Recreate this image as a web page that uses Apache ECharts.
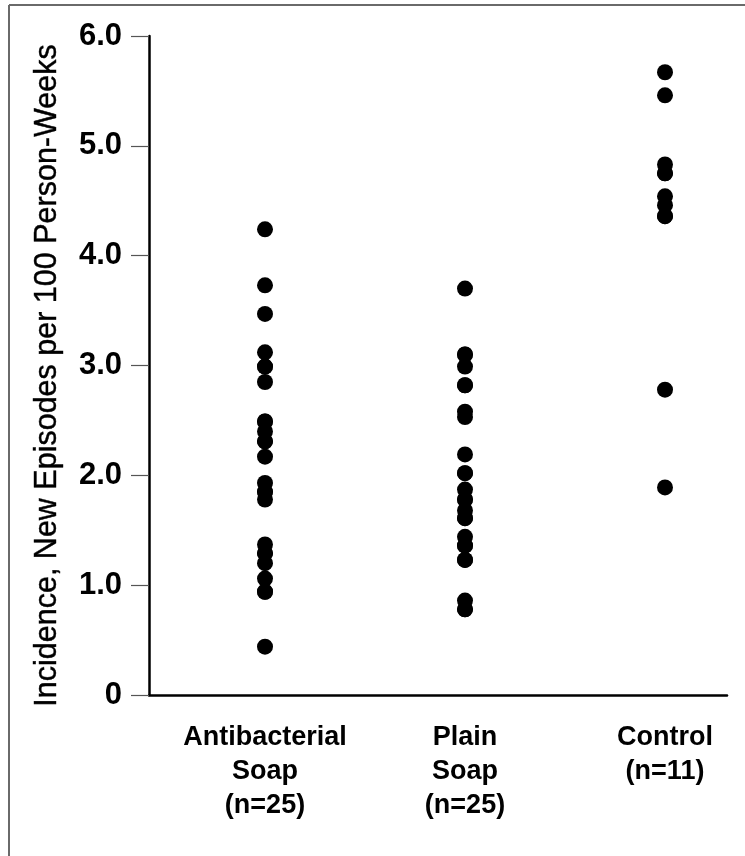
<!DOCTYPE html>
<html>
<head>
<meta charset="utf-8">
<script src="https://cdn.jsdelivr.net/npm/echarts@6/dist/echarts.min.js"></script>
<style>html,body{margin:0;padding:0;background:#fff}#c{width:745px;height:856px}</style>
</head>
<body>
<div id="c"></div>
<script>
const categories = ['Antibacterial\nSoap\n(n=25)', 'Plain\nSoap\n(n=25)', 'Control\n(n=11)'];
const yTicks = ['0', '1.0', '2.0', '3.0', '4.0', '5.0', '6.0'];
const antibacterial = [4.24, 3.73, 3.47, 3.12, 2.99, 2.99, 2.85, 2.49, 2.49, 2.40, 2.31, 2.31, 2.17, 1.93, 1.85, 1.85, 1.78, 1.37, 1.29, 1.29, 1.20, 1.06, 0.94, 0.94, 0.44];
const plainSoap = [3.70, 3.10, 3.10, 2.99, 2.82, 2.82, 2.58, 2.53, 2.19, 2.02, 2.02, 1.87, 1.78, 1.78, 1.68, 1.61, 1.61, 1.44, 1.36, 1.36, 1.23, 1.23, 0.86, 0.78, 0.78];
const control = [5.67, 5.46, 4.83, 4.75, 4.75, 4.54, 4.46, 4.36, 4.36, 2.78, 1.89];
const groups = [antibacterial, plainSoap, control];

const FONT = '"Liberation Sans", Arial, Helvetica, sans-serif';
const chart = echarts.init(document.getElementById('c'), null, {renderer: 'canvas'});
chart.setOption({
  backgroundColor: '#ffffff',
  animation: false,
  graphic: [
    {type: 'line', shape: {x1: 9, y1: 5, x2: 745, y2: 5}, style: {stroke: '#6a6a6a', lineWidth: 2}},
    {type: 'line', shape: {x1: 9, y1: 5, x2: 9, y2: 856}, style: {stroke: '#6a6a6a', lineWidth: 2}}
  ],
  grid: {left: 149, right: 18, top: 36, bottom: 161, containLabel: false},
  xAxis: {
    type: 'value', min: 0.42, max: 3.31,
    axisLine: {show: true, onZero: false, lineStyle: {color: '#000', width: 2.5}},
    axisTick: {show: false},
    splitLine: {show: false},
    axisLabel: {
      customValues: [1, 2, 3],
      formatter: v => categories[Math.round(v) - 1] || '',
      margin: 26, color: '#000', fontFamily: FONT, fontWeight: 'bold', fontSize: 27, lineHeight: 34, align: 'center'
    }
  },
  yAxis: {
    type: 'value', min: 0, max: 6, interval: 1,
    name: 'Incidence, New Episodes per 100 Person-Weeks',
    nameLocation: 'middle', nameRotate: 90, nameGap: 86,
    nameTextStyle: {color: '#000', fontFamily: FONT, fontSize: 30.5, padding: [0, 20, 0, 0], textBorderColor: '#000', textBorderWidth: 0.4},
    axisLine: {show: true, lineStyle: {color: '#000', width: 2.5}},
    axisTick: {show: true, inside: false, length: 18, lineStyle: {color: '#555', width: 1.2}},
    splitLine: {show: false},
    axisLabel: {
      formatter: v => yTicks[Math.round(v)],
      margin: 27, color: '#000', fontFamily: FONT, fontWeight: 'bold', fontSize: 31
    }
  },
  series: groups.map((g, i) => ({
    type: 'scatter',
    symbol: 'circle', symbolSize: 16,
    itemStyle: {color: '#000', opacity: 1},
    data: g.map(v => [i + 1, v])
  }))
});
</script>
</body>
</html>
